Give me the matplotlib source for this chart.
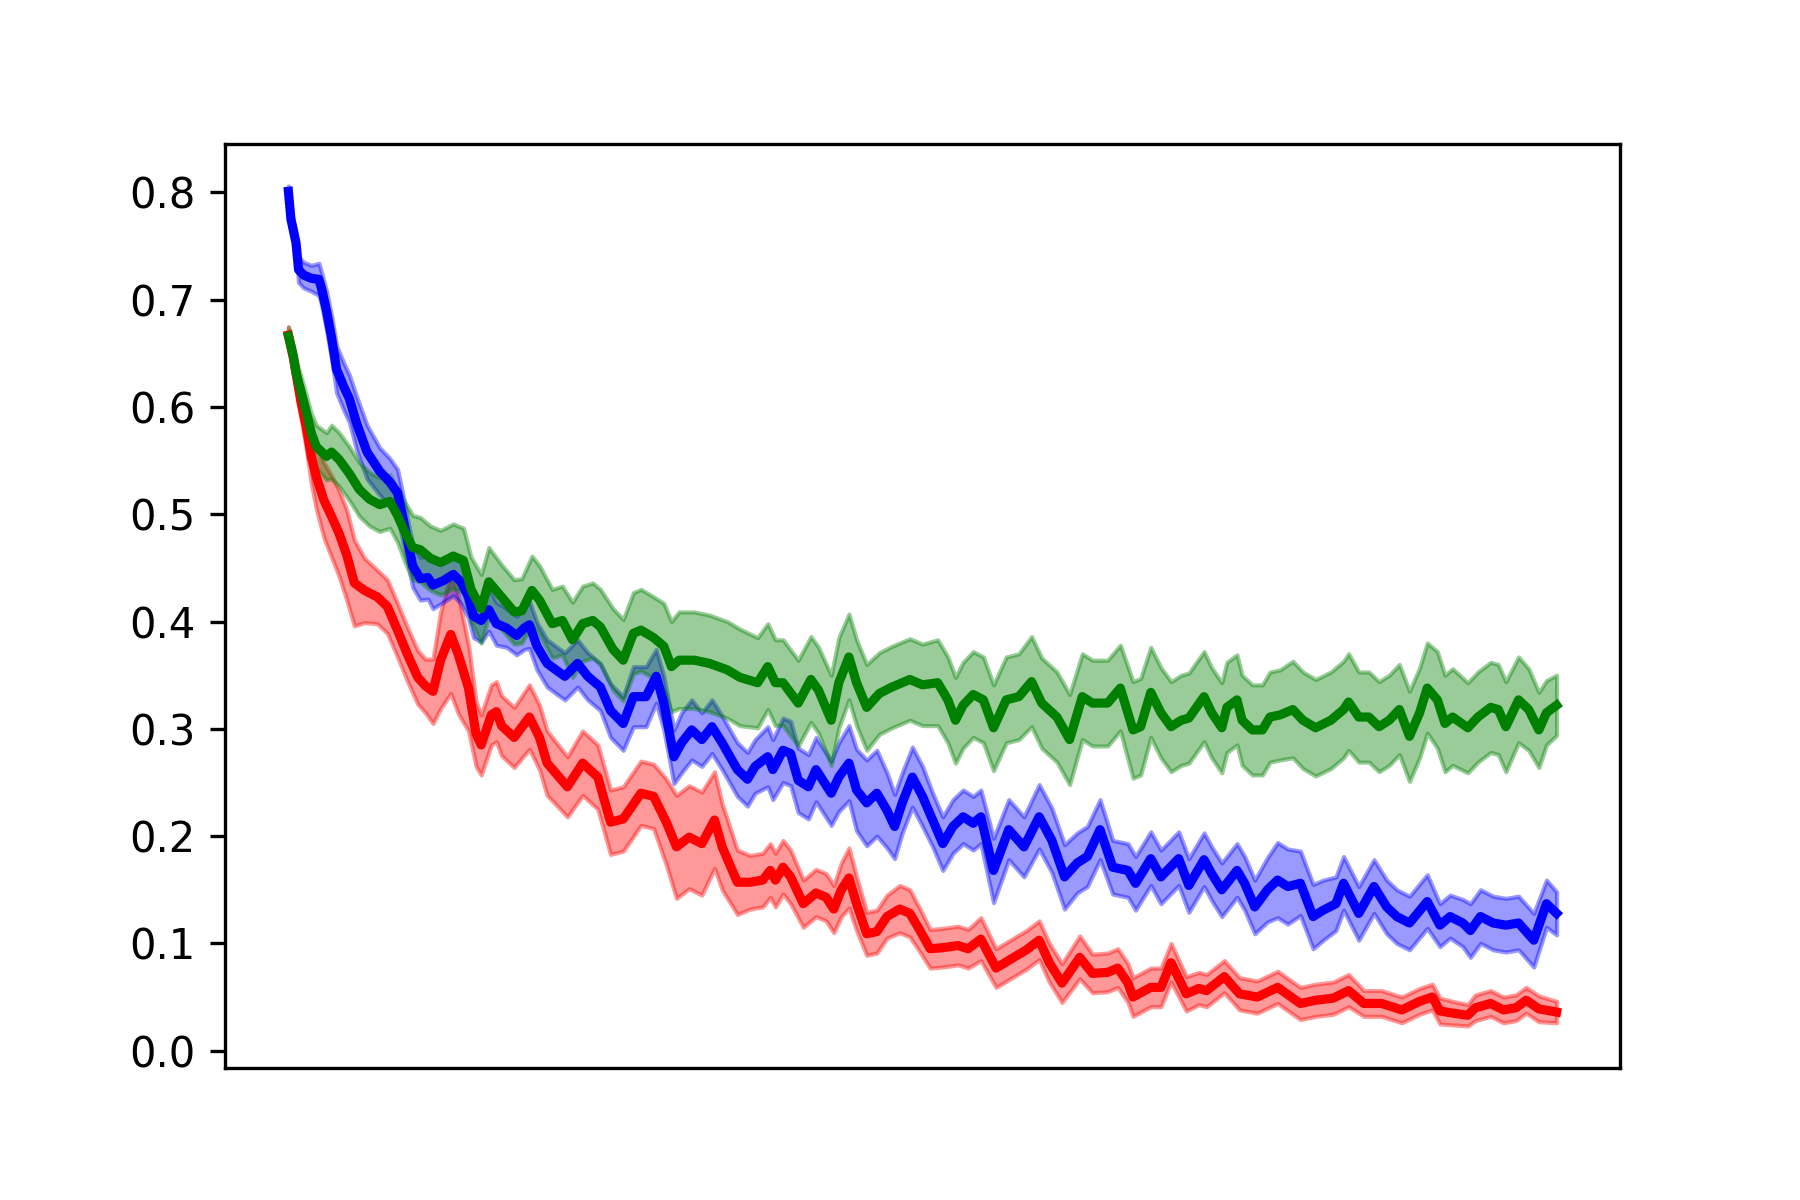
import matplotlib
matplotlib.use("Agg")
import matplotlib.pyplot as plt
import numpy as np

# training steps (0..500) and smoothed mean / spread

red_x = [0, 2, 5, 7, 9, 11, 14, 17, 20, 23,
         26, 30, 35, 39, 43, 47, 51, 54, 57, 60,
         64, 67, 71, 74, 76, 80, 82, 84, 89, 95,
         99, 102, 110, 116, 122, 127, 132, 139, 144, 149,
         153, 158, 163, 168, 171, 177, 182, 187, 190, 192,
         195, 198, 203, 208, 212, 215, 218, 221, 224, 228,
         232, 236, 241, 245, 249, 253, 258, 264, 268, 273,
         279, 286, 291, 296, 300, 305, 312, 317, 323, 327,
         331, 333, 340, 344, 348, 354, 359, 362, 369, 375,
         382, 390, 399, 405, 412, 418, 424, 431, 439, 446,
         451, 454, 459, 465, 468, 474, 479, 484, 488, 493,
         500]
red_mean = [.667, .645, .604, .582, .554, .535, .513, .498, .482, .462,
            .436, .429, .423, .414, .392, .369, .348, .340, .335, .364,
            .388, .369, .338, .295, .285, .313, .316, .303, .292, .311,
            .292, .268, .246, .268, .255, .213, .216, .240, .237, .213,
            .190, .199, .193, .215, .190, .157, .157, .159, .168, .159,
            .171, .162, .137, .147, .143, .132, .150, .161, .137, .109,
            .111, .125, .132, .128, .112, .095, .096, .098, .095, .104,
            .077, .087, .094, .103, .082, .063, .087, .072, .073, .077,
            .063, .050, .059, .059, .082, .053, .058, .056, .069, .053,
            .050, .059, .044, .047, .049, .056, .044, .044, .038, .046,
            .050, .037, .035, .033, .040, .044, .038, .040, .047, .039,
            .036]
red_sd = [.008, .010, .015, .020, .025, .030, .035, .038, .040, .042,
          .040, .030, .025, .025, .025, .025, .025, .025, .030, .045,
          .055, .055, .040, .030, .028, .028, .028, .028, .028, .030,
          .030, .030, .028, .030, .030, .030, .030, .030, .030, .040,
          .048, .048, .048, .045, .040, .030, .025, .025, .025, .025,
          .025, .025, .022, .022, .022, .022, .025, .028, .025, .020,
          .020, .020, .022, .022, .020, .018, .018, .018, .018, .020,
          .018, .018, .018, .018, .018, .018, .020, .018, .018, .018,
          .018, .018, .018, .018, .018, .016, .015, .015, .015, .015,
          .015, .015, .015, .015, .015, .015, .012, .012, .012, .012,
          .012, .012, .011, .010, .012, .012, .012, .012, .012, .012,
          .010]

blue_x = [0, 1, 3, 4, 6, 9, 12, 13, 15, 17,
          19, 22, 24, 27, 31, 36, 40, 43, 45, 47,
          49, 52, 55, 57, 61, 65, 68, 71, 73, 76,
          79, 82, 86, 90, 93, 95, 98, 102, 106, 109,
          114, 118, 123, 127, 132, 136, 141, 145, 148, 152,
          155, 159, 163, 167, 171, 177, 181, 184, 189, 191,
          195, 198, 201, 205, 208, 214, 217, 221, 224, 228,
          232, 236, 239, 242, 246, 250, 254, 258, 262, 266,
          270, 273, 278, 284, 290, 296, 301, 306, 311, 315,
          320, 325, 331, 334, 340, 344, 351, 355, 361, 364,
          368, 374, 377, 381, 386, 390, 394, 399, 404, 408,
          413, 416, 422, 428, 433, 437, 442, 449, 454, 458,
          463, 466, 470, 475, 480, 485, 491, 496, 500]
blue_mean = [.801, .775, .753, .728, .723, .720, .719, .711, .690, .665,
             .635, .618, .608, .584, .558, .540, .530, .520, .498, .475,
             .452, .440, .441, .434, .438, .444, .437, .423, .405, .401,
             .411, .398, .394, .387, .394, .397, .377, .361, .354, .349,
             .361, .349, .339, .317, .305, .330, .330, .349, .324, .274,
             .287, .299, .290, .302, .287, .262, .253, .265, .274, .262,
             .280, .277, .252, .246, .262, .240, .255, .268, .243, .231,
             .240, .224, .209, .231, .255, .237, .215, .193, .209, .218,
             .212, .218, .168, .206, .190, .218, .196, .162, .175, .181,
             .206, .171, .168, .156, .179, .162, .179, .154, .178, .165,
             .150, .168, .156, .134, .150, .159, .153, .156, .125, .131,
             .137, .156, .128, .153, .134, .125, .119, .139, .117, .125,
             .119, .112, .125, .119, .117, .119, .103, .137, .128]
blue_sd = [.005, .008, .010, .012, .012, .012, .015, .015, .018, .020,
           .022, .022, .022, .025, .025, .022, .022, .022, .022, .020,
           .020, .020, .020, .022, .020, .020, .020, .020, .020, .020,
           .020, .020, .018, .018, .020, .022, .022, .022, .022, .022,
           .022, .022, .022, .025, .025, .028, .028, .025, .025, .025,
           .028, .028, .025, .025, .025, .025, .025, .025, .028, .028,
           .030, .030, .030, .030, .030, .030, .032, .035, .038, .040,
           .040, .035, .030, .028, .028, .028, .025, .025, .025, .025,
           .025, .025, .030, .028, .028, .030, .030, .030, .028, .028,
           .028, .025, .025, .025, .025, .025, .025, .025, .025, .025,
           .025, .025, .025, .025, .030, .035, .035, .030, .030, .028,
           .025, .025, .025, .025, .025, .025, .025, .025, .020, .020,
           .022, .025, .025, .025, .025, .025, .025, .022, .020]

green_x = [0, 2, 3, 6, 9, 11, 15, 17, 20, 24,
           28, 32, 36, 40, 43, 46, 49, 52, 56, 60,
           65, 69, 72, 76, 79, 84, 89, 92, 96, 99,
           104, 108, 112, 116, 120, 123, 128, 132, 136, 139,
           144, 148, 151, 154, 160, 166, 173, 178, 185, 189,
           192, 195, 201, 206, 209, 214, 217, 221, 224, 228,
           233, 238, 245, 250, 256, 260, 263, 266, 270, 274,
           278, 283, 288, 293, 297, 303, 308, 313, 317, 323,
           328, 333, 336, 340, 344, 348, 352, 355, 361, 364,
           368, 370, 374, 376, 380, 384, 387, 391, 396, 400,
           405, 411, 416, 418, 422, 426, 430, 434, 438, 442,
           446, 449, 453, 456, 459, 465, 469, 474, 477, 480,
           485, 489, 493, 496, 500]
green_mean = [.666, .647, .632, .605, .576, .563, .554, .558, .551, .538,
              .523, .514, .509, .512, .499, .483, .469, .467, .459, .455,
              .461, .457, .430, .412, .437, .423, .409, .410, .429, .420,
              .398, .401, .383, .398, .401, .395, .374, .364, .389, .392,
              .385, .377, .358, .364, .364, .361, .355, .348, .343, .358,
              .343, .343, .324, .346, .336, .308, .343, .367, .343, .320,
              .333, .339, .346, .341, .343, .327, .308, .322, .332, .327,
              .301, .327, .330, .344, .324, .311, .290, .330, .324, .324,
              .338, .299, .302, .334, .315, .302, .308, .310, .330, .315,
              .301, .320, .327, .308, .299, .299, .311, .313, .318, .308,
              .301, .308, .318, .325, .311, .311, .302, .308, .318, .293,
              .315, .338, .327, .305, .311, .301, .311, .320, .318, .302,
              .327, .318, .299, .315, .322]
green_sd = [.008, .010, .012, .015, .018, .020, .022, .025, .025, .025,
            .025, .025, .025, .025, .025, .028, .030, .030, .030, .030,
            .030, .030, .030, .032, .032, .030, .030, .030, .032, .032,
            .032, .032, .035, .035, .035, .035, .038, .038, .038, .038,
            .038, .040, .042, .045, .045, .045, .045, .045, .042, .040,
            .040, .040, .040, .040, .040, .042, .042, .040, .040, .040,
            .038, .038, .038, .038, .040, .040, .040, .040, .040, .040,
            .040, .040, .040, .042, .042, .042, .042, .040, .040, .040,
            .040, .045, .045, .042, .042, .042, .042, .042, .042, .042,
            .042, .042, .042, .042, .042, .042, .042, .042, .045, .045,
            .045, .045, .045, .045, .042, .042, .042, .042, .042, .042,
            .042, .042, .045, .045, .045, .042, .042, .042, .042, .042,
            .040, .038, .035, .030, .028]

series = [(red_x, red_mean, red_sd, 'r'),
          (blue_x, blue_mean, blue_sd, 'b'),
          (green_x, green_mean, green_sd, 'g')]

plt.figure(figsize=(6, 4), dpi=300)
for x, m, s, c in series:
    m = np.array(m)
    s = np.array(s)
    plt.fill_between(x, m - s, m + s, color=c, alpha=0.4)
    plt.plot(x, m, color=c, linewidth=2.2)

plt.xticks([])
plt.savefig('out.png', dpi=300)
